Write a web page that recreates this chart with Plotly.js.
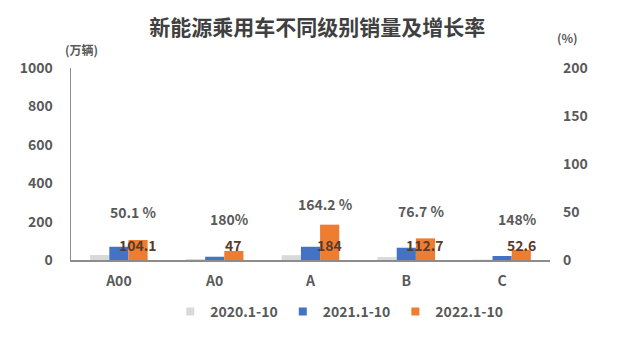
<!DOCTYPE html>
<html><head><meta charset="utf-8">
<script src="https://cdn.plot.ly/plotly-3.0.1.min.js"></script>
<style>html,body{margin:0;padding:0;background:#fff}#chart{width:641px;height:340px}</style>
</head><body><div id="chart"></div>
<script>
const categories = ['A00', 'A0', 'A', 'B', 'C'];
const sales2020 = [26, 5, 25, 15, 2];
const sales2021 = [69, 17, 69, 64, 21];
const sales2022 = [104.1, 47, 184, 112.7, 52.6];
const growthLabels = ['50.1 %', '180%', '164.2 %', '76.7 %', '148%'];
const seriesNames = ['2020.1-10', '2021.1-10', '2022.1-10'];
const colors = ['#d9d9d9', '#4472c4', '#ed7d31'];

// label placement (layout only)
const growthLabelY = [50, 43, 58, 51, 43];
const valueLabelY = 78;

const F = "'Noto Sans CJK SC', 'Noto Sans', sans-serif";
const tickFont = {family: F, size: 14, color: '#595959', weight: 'bold'};

const series = [sales2020, sales2021, sales2022];
const traces = series.map((s, k) => ({type: 'bar', name: seriesNames[k], x: categories, y: s,
  marker: {color: colors[k]}, showlegend: false}));
// legend entries with small square markers
seriesNames.forEach((n, k) => traces.push({type: 'scatter', mode: 'markers', name: n, x: [null], y: [null],
  marker: {symbol: 'square', size: 8, color: colors[k]}, hoverinfo: 'skip'}));
traces.push({type: 'scatter', x: categories, y: categories.map(() => null), yaxis: 'y2', showlegend: false, hoverinfo: 'skip'});

const annotations = [];
categories.forEach((c, i) => {
  annotations.push({x: c, xref: 'x', y: valueLabelY, yref: 'y', xshift: 19, text: String(sales2022[i]),
    showarrow: false, font: {family: F, size: 14, color: '#5a3a2c', weight: 'bold'}});
  annotations.push({x: c, xref: 'x', y: growthLabelY[i], yref: 'y2', xshift: 15, text: growthLabels[i],
    showarrow: false, font: {family: F, size: 14, color: '#595959', weight: 'bold'}});
});
annotations.push({xref: 'paper', yref: 'paper', x: -0.017, y: 1.094, xanchor: 'left', yanchor: 'middle',
  text: '(万辆)', showarrow: false, font: {family: F, size: 12, color: '#595959', weight: 'bold'}});
annotations.push({xref: 'paper', yref: 'paper', x: 1.01, y: 1.16, xanchor: 'left', yanchor: 'middle',
  text: '(%)', showarrow: false, font: {family: F, size: 12, color: '#595959', weight: 'bold'}});

const layout = {
  width: 641, height: 340,
  margin: {l: 71, r: 91, t: 68, b: 80},
  paper_bgcolor: '#fff', plot_bgcolor: '#fff',
  title: {text: '新能源乘用车不同级别销量及增长率', x: 0.495, xanchor: 'center', y: 0.92, yanchor: 'middle',
    font: {family: F, size: 21, color: '#404040', weight: 'bold'}},
  barmode: 'group', bargap: 0.4, bargroupgap: 0,
  xaxis: {showline: true, linecolor: '#8c8c8c', linewidth: 1.5, ticks: '', tickfont: tickFont,
    showgrid: false, zeroline: false, ticklabelstandoff: 8},
  yaxis: {range: [0, 1000], dtick: 200, showline: true, linecolor: '#8c8c8c', linewidth: 1.5,
    showgrid: false, zeroline: false, tickfont: tickFont, ticks: '', ticklabelstandoff: 14},
  yaxis2: {overlaying: 'y', side: 'right', range: [0, 200], dtick: 50, showline: false, showgrid: false,
    zeroline: false, tickfont: tickFont, ticks: '', ticklabelstandoff: 12},
  legend: {orientation: 'h', x: 0.56, xanchor: 'center', y: -0.27, yanchor: 'middle',
    font: {family: F, size: 14, color: '#595959', weight: 'bold'}, itemwidth: 30, traceorder: 'normal'},
  annotations: annotations,
  showlegend: true
};

Plotly.newPlot('chart', traces, layout, {displayModeBar: false, staticPlot: true});
</script></body></html>
